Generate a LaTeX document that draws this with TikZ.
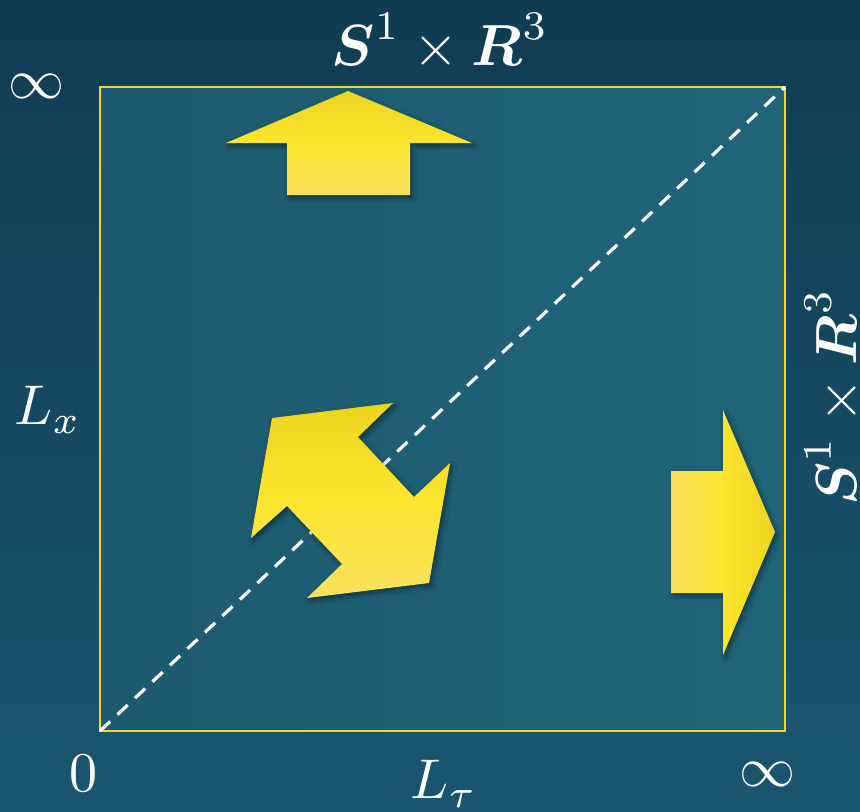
\documentclass[tikz,border=0pt]{standalone}
\usepackage{amsmath}
\usetikzlibrary{shadows.blur}

\definecolor{bgdark}{HTML}{113C53}
\definecolor{bglight}{HTML}{1A5671}
\definecolor{sqdark}{HTML}{1C5A6F}
\definecolor{sqlight}{HTML}{21657B}
\definecolor{ylwdark}{HTML}{ECD41F}
\definecolor{ylwmid}{HTML}{FDE52E}
\definecolor{ylwlight}{HTML}{F8E05E}
\definecolor{frame}{HTML}{F2D626}

\begin{document}
\begin{tikzpicture}[
    x=0.5pt, y=-0.5pt,
    lbl/.style={text=white, scale=2.8, inner sep=0pt},
    space/.style={text=white, scale=2.9, inner sep=0pt},
    bigarrow/.style={blur shadow={shadow xshift=1.2pt, shadow yshift=-1.5pt,
                     shadow blur steps=6, shadow blur radius=2.5pt, shadow opacity=45}},
    diag/.style={white, line width=1.6pt, dash pattern=on 7pt off 5pt}
]

% --- background ---
\useasboundingbox (0,0) rectangle (860,811);
\shade[top color=bgdark, bottom color=bglight] (0,0) rectangle (860,811);

% --- square ---
\coordinate (sqtl) at (100,87);
\coordinate (sqbr) at (785,731);
\coordinate (sqbl) at (100,731);
\coordinate (sqtr) at (785,87);
\shade[left color=sqdark, right color=sqlight] (sqtl) rectangle (sqbr);
\draw[frame, line width=1.2pt] (sqtl) rectangle (sqbr);

% diagonal
\draw[diag] (sqbl) -- (sqtr);

% --- arrows ---
\path[bigarrow, top color=ylwdark, bottom color=ylwlight, middle color=ylwmid]
    (348,91) -- (472,143) -- (410,143) -- (410,195)
    -- (287,195) -- (287,143) -- (226,143) -- cycle;
\path[bigarrow, left color=ylwlight, right color=ylwdark, middle color=ylwmid]
    (775,532) -- (723,655) -- (723,593) -- (671,593)
    -- (671,471) -- (723,471) -- (723,410) -- cycle;
\path[bigarrow, shading angle=45, top color=ylwdark, bottom color=ylwlight, middle color=ylwmid]
    (272,418) -- (393,403) -- (358,437) -- (414,497) -- (450,463)
    -- (429,583) -- (307,598) -- (342,564) -- (287,506) -- (251,538) -- cycle;

% --- labels ---
\node[lbl] (infy) at (37,86) {$\infty$};
\node[lbl] (lx) at (48,410) {$L_x$};
\node[lbl] (zero) at (83,773) {$0$};
\node[lbl] (ltau) at (444,784) {$L_\tau$};
\node[lbl] (infx) at (767,774) {$\infty$};
\node[space] (top) at (440,42) {$\boldsymbol{S}^1\times\boldsymbol{R}^3$};
\node[space, rotate=90] (side) at (833,397) {$\boldsymbol{S}^1\times\boldsymbol{R}^3$};

\end{tikzpicture}
\end{document}
